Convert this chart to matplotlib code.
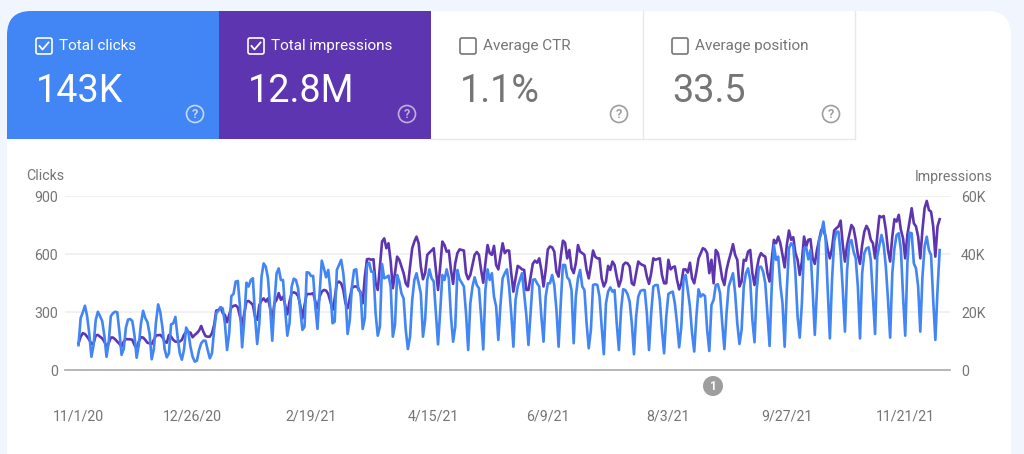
import matplotlib
matplotlib.use('Agg')
import matplotlib.pyplot as plt
from matplotlib.patches import FancyBboxPatch, Rectangle, Circle

plt.rcParams['font.family'] = ['Roboto', 'DejaVu Sans']

# Daily clicks, one row per week (Sunday to Saturday), starting 11/1/20
clicks = [
    130, 270, 300, 334, 280, 190, 70,
    130, 260, 303, 280, 255, 180, 70,
    140, 280, 295, 303, 300, 200, 80,
    110, 220, 262, 265, 255, 180, 65,
    130, 240, 308, 270, 250, 190, 57,
    110, 250, 341, 300, 220, 110, 67,
    88, 238, 243, 276, 175, 90, 55,
    105, 221, 200, 122, 70, 45, 50,
    105, 140, 153, 153, 105, 62, 88,
    209, 295, 309, 326, 320, 243, 105,
    191, 384, 395, 459, 462, 329, 119,
    260, 453, 433, 467, 476, 278, 136,
    243, 484, 553, 536, 476, 329, 153,
    346, 502, 527, 467, 467, 312, 179,
    243, 433, 474, 467, 424, 312, 209,
    226, 507, 505, 488, 488, 329, 214,
    398, 567, 527, 481, 519, 415, 243,
    252, 519, 545, 571, 502, 381, 188,
    260, 433, 519, 522, 415, 407, 214,
    269, 545, 557, 510, 510, 295, 179,
    226, 550, 476, 481, 490, 433, 174,
    234, 493, 459, 398, 372, 209, 110,
    174, 364, 467, 502, 450, 398, 174,
    260, 467, 522, 476, 459, 295, 134,
    303, 493, 467, 522, 476, 278, 148,
    226, 519, 471, 453, 433, 295, 105,
    346, 433, 481, 441, 424, 278, 108,
    415, 522, 467, 502, 381, 329, 157,
    338, 476, 502, 522, 433, 295, 122,
    364, 433, 467, 502, 398, 286, 131,
    295, 467, 471, 450, 433, 278, 148,
    381, 450, 450, 493, 441, 312, 122,
    346, 545, 545, 481, 467, 415, 140,
    381, 476, 519, 433, 415, 243, 114,
    209, 441, 445, 441, 381, 226, 83,
    346, 407, 429, 407, 415, 243, 105,
    312, 419, 415, 395, 355, 243, 83,
    278, 381, 410, 415, 415, 295, 105,
    295, 433, 441, 441, 364, 209, 88,
    278, 395, 402, 407, 346, 243, 119,
    226, 467, 493, 415, 329, 191, 97,
    278, 419, 381, 393, 384, 209, 100,
    338, 364, 441, 445, 398, 243, 110,
    295, 433, 467, 502, 398, 243, 136,
    209, 433, 502, 527, 467, 260, 145,
    415, 533, 536, 510, 450, 295, 126,
    433, 648, 571, 588, 441, 346, 122,
    415, 631, 657, 643, 502, 278, 169,
    346, 631, 636, 574, 622, 415, 183,
    415, 674, 709, 769, 683, 415, 165,
    467, 665, 717, 717, 605, 415, 200,
    519, 657, 674, 614, 579, 433, 165,
    502, 605, 631, 636, 571, 381, 188,
    588, 648, 700, 648, 536, 364, 169,
    502, 631, 700, 709, 622, 381, 179,
    553, 712, 709, 553, 527, 433, 200,
    484, 640, 691, 622, 596, 364, 157,
    415, 622,
]

# Daily impressions in thousands, same days as clicks
impressions_k = [
    9.3, 11.6, 12.8, 12.5, 11.6, 10.5, 9.1,
    9.3, 12.0, 12.2, 11.6, 11.0, 9.9, 8.2,
    9.3, 11.3, 11.3, 10.7, 9.9, 9.1, 8.2,
    9.9, 10.8, 10.7, 10.7, 10.5, 8.7, 7.6,
    9.9, 11.4, 11.3, 10.5, 9.5, 9.3, 9.1,
    10.5, 12.0, 12.1, 12.2, 11.4, 9.9, 9.5,
    12.2, 11.6, 10.5, 9.9, 9.8, 9.9, 10.5,
    12.2, 13.3, 13.2, 13.0, 11.4, 12.2, 12.8,
    13.7, 15.3, 13.3, 11.8, 11.6, 11.6, 12.8,
    15.6, 20.6, 20.8, 21.7, 19.7, 19.1, 16.6,
    19.1, 21.7, 22.2, 22.4, 21.7, 18.5, 15.6,
    19.7, 23.7, 23.9, 23.3, 22.5, 18.5, 17.4,
    22.5, 24.0, 24.8, 23.7, 24.8, 21.4, 17.4,
    23.1, 24.3, 26.6, 24.3, 25.4, 22.5, 19.3,
    23.7, 26.6, 26.9, 26.6, 25.6, 22.5, 17.9,
    22.5, 26.3, 26.3, 26.3, 26.6, 23.7, 21.4,
    25.4, 27.1, 27.7, 27.5, 26.3, 23.7, 20.8,
    24.8, 30.0, 30.6, 30.0, 27.7, 23.1, 21.4,
    24.8, 28.3, 28.9, 28.9, 28.3, 26.6, 23.1,
    32.3, 38.3, 38.4, 38.1, 38.3, 30.0, 27.7,
    35.8, 44.4, 45.5, 42.1, 43.8, 37.5, 28.3,
    33.5, 39.2, 38.1, 35.8, 33.5, 30.0, 28.9,
    35.8, 42.1, 44.4, 46.1, 43.8, 35.8, 31.4,
    33.5, 39.8, 40.6, 41.3, 42.1, 34.6, 27.7,
    35.8, 44.4, 43.2, 40.9, 41.3, 34.6, 29.8,
    36.9, 40.4, 41.7, 41.5, 41.3, 33.5, 31.4,
    32.9, 36.3, 39.8, 40.8, 39.8, 34.6, 30.2,
    36.9, 43.2, 40.4, 39.8, 42.9, 36.3, 34.8,
    39.2, 43.8, 40.4, 41.3, 41.3, 33.5, 27.1,
    31.7, 36.0, 35.5, 34.8, 34.6, 27.7, 27.7,
    32.3, 36.7, 37.8, 37.1, 38.6, 34.6, 28.9,
    34.6, 41.7, 42.7, 42.4, 40.9, 34.0, 32.3,
    39.2, 44.7, 44.0, 38.6, 41.5, 35.2, 33.5,
    36.9, 43.2, 40.9, 40.4, 39.8, 34.6, 31.7,
    36.3, 41.3, 39.2, 38.6, 38.6, 31.7, 28.9,
    30.6, 36.0, 34.6, 37.5, 36.3, 32.3, 28.9,
    31.2, 36.3, 37.1, 36.9, 35.8, 30.0, 29.4,
    33.5, 37.5, 36.7, 36.3, 36.0, 32.3, 29.8,
    33.5, 38.6, 38.1, 38.4, 38.6, 32.9, 30.0,
    30.0, 38.1, 34.8, 35.5, 35.8, 31.2, 27.9,
    30.0, 34.8, 34.8, 33.7, 37.1, 31.7, 30.0,
    34.0, 38.6, 40.4, 42.1, 41.7, 40.4, 33.5,
    38.1, 30.0, 41.5, 40.4, 36.3, 31.7, 29.4,
    34.6, 37.8, 40.4, 43.5, 39.8, 38.1, 28.9,
    30.6, 38.1, 37.8, 40.9, 41.5, 33.5, 29.4,
    34.6, 38.6, 40.4, 39.6, 39.2, 33.5, 30.6,
    38.1, 45.0, 43.8, 46.1, 43.8, 39.8, 35.5,
    43.2, 48.2, 45.0, 45.9, 40.4, 38.1, 32.9,
    37.5, 46.1, 42.7, 45.0, 45.2, 38.6, 36.7,
    41.5, 45.0, 48.4, 48.6, 46.1, 41.5, 38.6,
    42.1, 48.2, 49.0, 49.6, 51.6, 43.2, 37.5,
    43.2, 46.7, 50.1, 49.0, 45.0, 39.8, 36.7,
    43.2, 47.8, 49.8, 48.4, 45.0, 43.8, 38.6,
    46.1, 53.2, 52.8, 53.2, 48.4, 41.5, 37.5,
    46.1, 52.1, 51.3, 53.6, 48.4, 45.5, 38.6,
    46.7, 51.3, 55.9, 50.7, 49.6, 46.1, 38.6,
    48.4, 55.9, 58.4, 55.3, 54.7, 49.6, 39.2,
    49.6, 52.1,
]

date_labels = ['11/1/20', '12/26/20', '2/19/21', '4/15/21', '6/9/21', '8/3/21', '9/27/21', '11/21/21']
date_steps = [0, 53, 108, 165, 218, 274, 329, 384]
clicks_ticks = [0, 300, 600, 900]
impression_ticks = [0, 20, 40, 60]

tile_titles = ['Total clicks', 'Total impressions', 'Average CTR', 'Average position']
tile_values = ['143K', '12.8M', '1.1%', '33.5']

BLUE = '#4285f4'
PURPLE = '#5e35b1'
GREY = '#757575'

fig = plt.figure(figsize=(10.24, 4.54), dpi=100, facecolor='#f1f6fe')

# Background layer in pixel coordinates for the card and the tiles
bg = fig.add_axes([0, 0, 1, 1])
bg.set_xlim(0, 1024)
bg.set_ylim(454, 0)
bg.axis('off')

card = FancyBboxPatch((7, 11), 1004, 500, boxstyle='round,pad=0,rounding_size=24',
                      fc='white', ec='none', zorder=1)
bg.add_patch(card)

tile_left = [7, 219, 431, 643]
tile_right = [219, 431, 643, 855]
tile_color = [BLUE, PURPLE, 'white', 'white']

for i in range(4):
    x0 = tile_left[i]
    x1 = tile_right[i]
    selected = i < 2
    fg = 'white' if selected else GREY

    r = Rectangle((x0, 11), x1 - x0, 128, fc=tile_color[i], ec='none', zorder=2)
    bg.add_patch(r)
    r.set_clip_path(card)
    if not selected:
        bg.plot([x1, x1], [11, 139], color='#e8e8e8', lw=1.0, zorder=3)
        bg.plot([x0, x1], [139, 139], color='#e8e8e8', lw=1.0, zorder=3)

    # checkbox
    box = FancyBboxPatch((x0 + 29, 38), 16, 16, boxstyle='round,pad=0,rounding_size=2',
                         fc='none', ec=fg, lw=1.2, zorder=4)
    bg.add_patch(box)
    if selected:
        bg.plot([x0 + 32.5, x0 + 35.5, x0 + 41.5], [46, 49.5, 42.5], color=fg, lw=1.3, zorder=4)

    bg.text(x0 + 52, 46, tile_titles[i], color=fg, fontsize=11, va='center', ha='left', zorder=4)
    bg.text(x0 + 29, 102, tile_values[i], color=fg, fontsize=27.2, va='baseline', ha='left', zorder=4)

    # help icon
    help_color = '#c6d9fb' if i == 0 else ('#bfaee0' if i == 1 else '#9e9e9e')
    bg.add_patch(Circle((x0 + 188, 114), 8.5, fc='none', ec=help_color, lw=1.2, zorder=4))
    bg.text(x0 + 188, 114.5, '?', color=help_color, fontsize=9, fontweight='bold',
            va='center', ha='center', zorder=4)

bg.text(26, 176.5, 'Clicks', color=GREY, fontsize=10.2, va='center', ha='left', zorder=4)
bg.text(993, 176.5, 'Impressions', color=GREY, fontsize=10.2, va='center', ha='right', zorder=4)

# annotation marker under the axis
bg.add_patch(Circle((713, 386), 10, fc='#9e9e9e', ec='none', zorder=6))
bg.text(713, 386.5, '1', color='white', fontsize=8.5, fontweight='bold', va='center', ha='center', zorder=7)

# Chart, impressions behind on the right axis and clicks on top on the left axis
days = list(range(len(clicks)))
impressions = [v * 1000 for v in impressions_k]

ax = fig.add_axes([65 / 1024, (454 - 370.3) / 454, 885 / 1024, 174 / 454], zorder=3)
ax2 = ax.twinx()
ax.set_zorder(4)
ax2.set_zorder(3)
ax.patch.set_visible(False)
ax2.patch.set_visible(False)

ax2.plot(days, impressions, color=PURPLE, lw=1.9, solid_joinstyle='round', clip_on=False)
ax.plot(days, clicks, color=BLUE, lw=1.9, solid_joinstyle='round', clip_on=False)

ax.set_xlim(-6.27, 404.8)
ax.set_ylim(0, 900)
ax2.set_ylim(0, 60000)

ax.set_yticks(clicks_ticks)
ax.set_yticklabels([str(v) for v in clicks_ticks])
ax2.set_yticks([v * 1000 for v in impression_ticks])
ax2.set_yticklabels(['0' if v == 0 else f'{v}K' for v in impression_ticks])
ax.set_xticks(date_steps)
ax.set_xticklabels(date_labels)

ax2.yaxis.grid(True, color='#eeeeee', lw=1.1)
ax2.set_axisbelow(True)

for a in (ax, ax2):
    for s in ('top', 'left', 'right'):
        a.spines[s].set_visible(False)
    a.spines['bottom'].set_color('#b5b5b5')
    a.spines['bottom'].set_linewidth(1.1)
    a.tick_params(axis='y', length=0, labelsize=10.2, labelcolor=GREY)
ax.tick_params(axis='y', pad=5)
ax2.tick_params(axis='y', pad=8)
ax.tick_params(axis='x', length=0, pad=28, labelsize=10.2, labelcolor=GREY)

fig.savefig('out.png', dpi=100)
